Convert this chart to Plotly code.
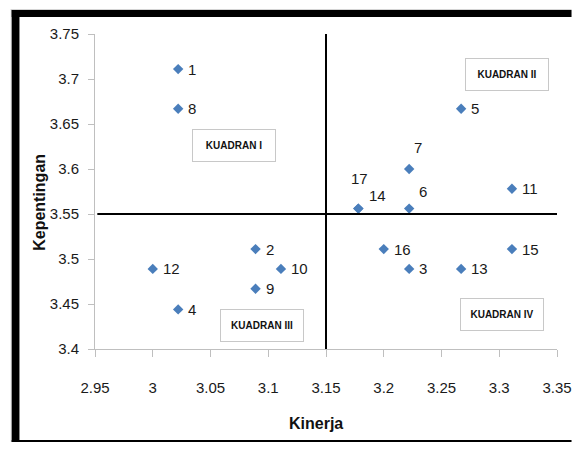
import plotly.graph_objects as go

labels = [str(i) for i in range(1, 18)]
kinerja = [3.022, 3.089, 3.222, 3.022, 3.267, 3.222, 3.222, 3.022, 3.089,
           3.111, 3.311, 3.000, 3.267, 3.178, 3.311, 3.200, 3.178]
kepentingan = [3.711, 3.511, 3.489, 3.444, 3.667, 3.556, 3.600, 3.667, 3.467,
               3.489, 3.578, 3.489, 3.489, 3.556, 3.511, 3.511, 3.556]
x_mean = 3.15
y_mean = 3.55
x_ticks = [2.95, 3.0, 3.05, 3.1, 3.15, 3.2, 3.25, 3.3, 3.35]
x_ticklabels = ["2.95", "3", "3.05", "3.1", "3.15", "3.2", "3.25", "3.3", "3.35"]
y_ticks = [3.4, 3.45, 3.5, 3.55, 3.6, 3.65, 3.7, 3.75]
y_ticklabels = ["3.4", "3.45", "3.5", "3.55", "3.6", "3.65", "3.7", "3.75"]
quadrants = ["KUADRAN I", "KUADRAN II", "KUADRAN III", "KUADRAN IV"]
quad_x = [3.0704, 3.307, 3.0943, 3.302]
quad_y = [3.6257, 3.7045, 3.4264, 3.438]

FONT = "Liberation Sans Narrow, Arial Narrow, Liberation Sans, Arial, sans-serif"

# the page shows the figure with an 8px body margin: size it to fit the window
OFF = 8
W, H = 587 - 2 * OFF, 450 - 2 * OFF
PL, PT, PR, PB = 95, 34, 572, 349   # plot area in page pixels
L = PL - OFF
T = PT - OFF
R = W - (PR - OFF)
B = H - (PB - OFF)
PW, PH = PR - PL, PB - PT

def px(p):
    return (p - PL) / PW

def py(p):
    return (PB - p) / PH

offsets = {i: (8, 0, "left") for i in labels}
offsets["7"] = (9, 22, "center")
offsets["17"] = (1, 30, "center")
offsets["14"] = (19, 13, "center")
offsets["6"] = (14, 17, "center")

fig = go.Figure()
fig.add_trace(go.Scatter(
    x=kinerja, y=kepentingan, mode="markers",
    marker=dict(symbol="diamond", size=8, color="#4A7EBB"),
    hoverinfo="x+y", showlegend=False,
))

annotations = []
for lab, xv, yv in zip(labels, kinerja, kepentingan):
    dx, dy, anc = offsets[lab]
    annotations.append(dict(
        x=xv, y=yv, xref="x", yref="y", text=lab, showarrow=False,
        xanchor=anc, yanchor="middle", xshift=dx, yshift=dy,
        font=dict(family=FONT, size=15, color="#1a1a1a"),
    ))

for q, qx, qy in zip(quadrants, quad_x, quad_y):
    annotations.append(dict(
        x=qx, y=qy, xref="x", yref="y", text="<b>" + q + "</b>", showarrow=False,
        xanchor="center", yanchor="middle", width=80, height=29,
        bordercolor="#c8c8c8", borderwidth=1, borderpad=1, bgcolor="white",
        font=dict(family=FONT, size=10, color="#111111"),
    ))

annotations.append(dict(
    x=px(323), y=py(423), xref="paper", yref="paper", text="<b>Kinerja</b>",
    showarrow=False, xanchor="center", yanchor="middle",
    font=dict(family=FONT, size=16, color="#111111"),
))
annotations.append(dict(
    x=px(37), y=py(202), xref="paper", yref="paper", text="<b>Kepentingan</b>",
    showarrow=False, xanchor="center", yanchor="middle", textangle=-90,
    font=dict(family=FONT, size=16, color="#111111"),
))

def bar(x0, y0, x1, y1, color):
    return dict(type="rect", xref="paper", yref="paper", layer="above",
                x0=px(x0), x1=px(x1), y0=py(y0), y1=py(y1),
                fillcolor=color, line=dict(width=0))

shapes = [
    dict(type="line", xref="x", yref="y", x0=x_mean, x1=x_mean, y0=3.4, y1=3.75,
         line=dict(color="black", width=2)),
    dict(type="line", xref="x", yref="y", x0=2.952, x1=3.35, y0=y_mean, y1=y_mean,
         line=dict(color="black", width=2)),
    bar(8, 9, 9, 450, "#d4d4d4"),
    bar(8, 9, 587, 10, "#d4d4d4"),
    bar(9, 10, 17, 450, "black"),
    bar(9, 10, 587, 17, "black"),
    bar(9, 440, 587, 450, "black"),
]

fig.update_layout(
    width=W, height=H,
    margin=dict(l=L, r=R, t=T, b=B),
    paper_bgcolor="white", plot_bgcolor="white",
    annotations=annotations, shapes=shapes,
    font=dict(family=FONT, size=15, color="#1a1a1a"),
    xaxis=dict(range=[2.95, 3.35], tickvals=x_ticks, ticktext=x_ticklabels,
               showgrid=False, zeroline=False, showline=True, linecolor="#bfbfbf",
               linewidth=1, ticks="outside", ticklen=7, tickcolor="#bfbfbf",
               ticklabelstandoff=18, ticklabeloverflow="allow",
               tickfont=dict(family=FONT, size=15)),
    yaxis=dict(range=[3.4, 3.75], tickvals=y_ticks, ticktext=y_ticklabels,
               showgrid=False, zeroline=False, showline=True, linecolor="#bfbfbf",
               linewidth=1, ticks="outside", ticklen=6, tickcolor="#bfbfbf",
               ticklabelstandoff=6, tickfont=dict(family=FONT, size=15)),
)

fig.write_html("out.html", config={"displayModeBar": False})
